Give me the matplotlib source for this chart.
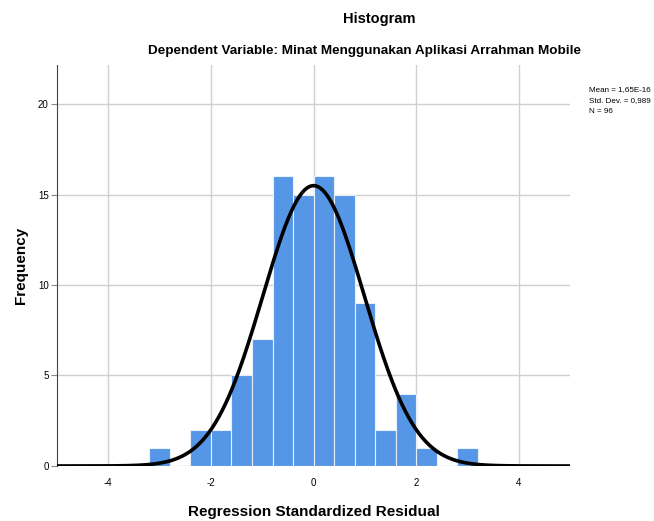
import numpy as np
import matplotlib.pyplot as plt

# histogram of regression standardized residuals
bin_edges = [-3.2, -2.8, -2.4, -2.0, -1.6, -1.2, -0.8, -0.4, 0.0,
             0.4, 0.8, 1.2, 1.6, 2.0, 2.4, 2.8, 3.2]
counts = [1, 0, 2, 2, 5, 7, 16, 15, 16, 15, 9, 2, 4, 1, 0, 1]
mean = 1.65e-16
std_dev = 0.989
n_obs = 96

x_ticks = [-4, -2, 0, 2, 4]
y_ticks = [0, 5, 10, 15, 20]

plt.rcParams['font.family'] = ['Liberation Sans', 'DejaVu Sans']
plt.rcParams['axes.unicode_minus'] = False

fig = plt.figure(figsize=(6.54, 5.21), dpi=100)
ax = fig.add_axes([0.087, 0.1056, 0.785, 0.7694])

lefts = np.array(bin_edges[:-1])
widths = np.diff(bin_edges)
ax.bar(lefts, counts, width=widths, align='edge', color='#5596E6',
       edgecolor='#E8F0FB', linewidth=0.8, zorder=2)

bw = widths[0]
xs = np.linspace(-5, 5, 600)
ys = n_obs * bw / (std_dev * np.sqrt(2 * np.pi)) * np.exp(-0.5 * ((xs - mean) / std_dev) ** 2)
ax.plot(xs, ys, color='black', linewidth=2.6, zorder=3, solid_capstyle='butt')

ax.set_xlim(-5, 5)
ax.set_ylim(0, 22.15)
ax.set_xticks(x_ticks)
ax.set_yticks(y_ticks)
ax.grid(True, color='#D0D0D0', linewidth=1.0, zorder=0)
ax.set_axisbelow(True)
for s in ['top', 'right', 'bottom']:
    ax.spines[s].set_visible(False)
ax.spines['left'].set_color('#444444')
ax.spines['left'].set_linewidth(0.8)
ax.tick_params(axis='x', length=0, pad=9, labelsize=7)
ax.tick_params(axis='y', length=4, width=0.8, color='#888888', pad=2, labelsize=7)

ax.set_xlabel('Regression Standardized Residual', fontsize=11, fontweight='bold', labelpad=12)
ax.set_ylabel('Frequency', fontsize=11, fontweight='bold', labelpad=7)

fig.text(0.58, 0.964, 'Histogram', ha='center', va='center', fontsize=10.5, fontweight='bold')
fig.text(0.558, 0.903, 'Dependent Variable: Minat Menggunakan Aplikasi Arrahman Mobile',
         ha='center', va='center', fontsize=9.7, fontweight='bold')

fig.text(0.9, 0.834, 'Mean = 1,65E-16\nStd. Dev. = 0,989\nN = %d' % n_obs,
         ha='left', va='top', fontsize=5.8, linespacing=1.75)

fig.savefig('out.png', dpi=100)
